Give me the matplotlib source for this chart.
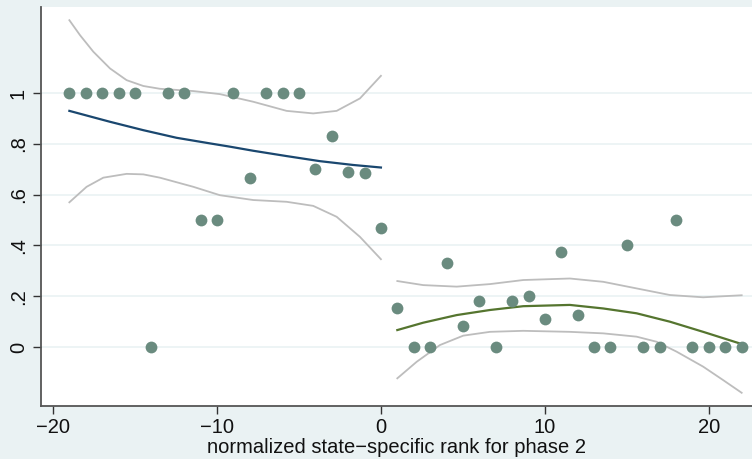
import numpy as np
import matplotlib.pyplot as plt

plt.rcParams['font.family'] = ['Liberation Sans', 'DejaVu Sans']

# rank and share for each state group
rank_left = [-19, -18, -17, -16, -15, -14, -13, -12, -11, -10,
             -9, -8, -7, -6, -5, -4, -3, -2, -1, 0]
share_left = [1, 1, 1, 1, 1, 0, 1, 1, 0.5, 0.5,
              1, 0.667, 1, 1, 1, 0.7, 0.833, 0.69, 0.687, 0.47]
rank_right = [1, 2, 3, 4, 5, 6, 7, 8, 9, 10, 11,
              12, 13, 14, 15, 16, 17, 18, 19, 20, 21, 22]
share_right = [0.155, 0, 0, 0.333, 0.083, 0.182, 0, 0.182, 0.2, 0.111, 0.375,
               0.125, 0, 0, 0.4, 0, 0, 0.5, 0, 0, 0, 0]

# fitted line and confidence band, left of cutoff
fit_x_left = [-19, -16.52, -14.49, -12.46, -10.43, -9.2, -7.79, -5.75, -3.72, -1.69, 0]
fit_y_left = [0.930, 0.887, 0.854, 0.824, 0.802, 0.789, 0.773, 0.752, 0.732, 0.717, 0.707]
ciu_x_left = [-19, -18.35, -17.54, -16.52, -15.51, -14.49, -13.48, -11.44, -9.82,
              -7.79, -5.75, -4.13, -2.70, -1.28, 0]
ciu_y_left = [1.287, 1.228, 1.163, 1.097, 1.051, 1.028, 1.017, 1.008, 0.996,
              0.966, 0.930, 0.920, 0.930, 0.979, 1.068]
cil_x_left = [-19, -17.95, -16.93, -15.51, -14.49, -13.48, -11.44, -9.82,
              -7.79, -5.75, -4.13, -2.70, -1.28, 0]
cil_y_left = [0.570, 0.631, 0.667, 0.682, 0.680, 0.667, 0.631, 0.598,
              0.579, 0.572, 0.556, 0.513, 0.434, 0.346]

# fitted line and confidence band, right of cutoff
fit_x_right = [1, 2.58, 4.62, 6.65, 8.68, 11.52, 13.56, 15.59, 17.62, 19.65, 22]
fit_y_right = [0.067, 0.096, 0.126, 0.146, 0.161, 0.166, 0.152, 0.133, 0.100, 0.060, 0.012]
ciu_y_right = [0.260, 0.244, 0.238, 0.248, 0.264, 0.270, 0.257, 0.231, 0.205, 0.196, 0.204]
cil_x_right = [1, 2.18, 3.60, 5.02, 6.65, 8.68, 11.52, 13.56, 15.59, 16.81, 18.03,
               19.65, 20.87, 22]
cil_y_right = [-0.123, -0.058, 0.008, 0.045, 0.060, 0.064, 0.060, 0.054, 0.041, 0.021, -0.018,
               -0.077, -0.130, -0.180]

xticks = [-20, -10, 0, 10, 20]
yticks = [0, 0.2, 0.4, 0.6, 0.8, 1]
ylabels = ['0', '.2', '.4', '.6', '.8', '1']

bg = '#eaf2f3'
fig = plt.figure(figsize=(7.52, 4.59), dpi=100, facecolor=bg)
ax = fig.add_axes([41/752, 1-406/459, 1-41/752, 399/459])

for y in yticks:
    ax.axhline(y, color=bg, lw=1.2, zorder=0)

ci_col = '#bdbdbd'
ax.plot(ciu_x_left, ciu_y_left, color=ci_col, lw=1.3)
ax.plot(cil_x_left, cil_y_left, color=ci_col, lw=1.3)
ax.plot(fit_x_right, ciu_y_right, color=ci_col, lw=1.3)
ax.plot(cil_x_right, cil_y_right, color=ci_col, lw=1.3)

ax.scatter(rank_left, share_left, s=72, color='#6a8b7f', zorder=3, linewidths=0)
ax.scatter(rank_right, share_right, s=72, color='#6a8b7f', zorder=3, linewidths=0)

ax.plot(fit_x_left, fit_y_left, color='#1a476f', lw=1.6, zorder=2)
ax.plot(fit_x_right, fit_y_right, color='#55752f', lw=1.6, zorder=2)

ax.set_xlim(-20.73, 22.63)
ax.set_ylim(-0.232, 1.339)

ax.set_xticks(xticks)
ax.set_yticks(yticks)
ax.set_yticklabels(ylabels, rotation=90, va='center')
ax.tick_params(labelsize=14.5, color='#333333', length=5.5, width=1, labelcolor='#111111')
ax.tick_params(axis='x', pad=3)
ax.tick_params(axis='y', pad=4)

ax.set_xlabel('normalized state\u2212specific rank for phase 2', fontsize=14.5, labelpad=1, color='#111111')

for side in ['top', 'right']:
    ax.spines[side].set_visible(False)
for side in ['left', 'bottom']:
    ax.spines[side].set_color('#555555')
    ax.spines[side].set_linewidth(1.3)

fig.savefig('out.png', dpi=100, facecolor=bg)
